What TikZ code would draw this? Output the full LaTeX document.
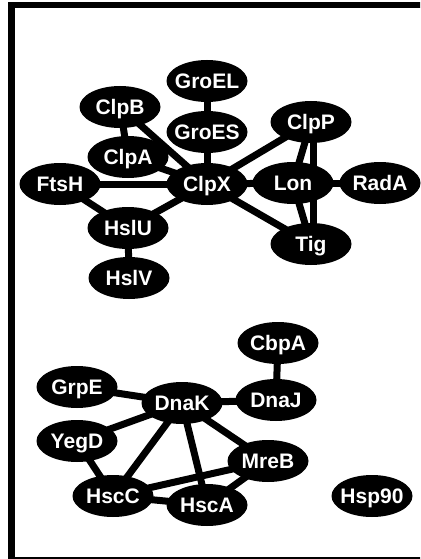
\documentclass[tikz,border=0pt]{standalone}
\usepackage{fontspec}
\setmainfont{Liberation Sans}
\usetikzlibrary{shapes.geometric}
\pgfdeclarelayer{background}
\pgfsetlayers{background,main}

\tikzset{
  plabel/.style={text=white, inner sep=0pt,
    font=\fontsize{21}{21}\selectfont\bfseries,
    text height=15pt, text depth=0pt},
  protein/.style={ellipse, fill=black, inner sep=0pt,
    minimum width=81pt, minimum height=42pt,
    label={[plabel]center:#1}},
  link/.style={line width=7pt, black},
  frameline/.style={line width=6.5pt, black}
}

\begin{document}
\begin{tikzpicture}[x=1pt, y=-1pt]
  \useasboundingbox (0,0) rectangle (420,559);

  % chaperone / protease cluster
  \node[protein=GroEL] (GroEL) at (207,81)  {};
  \node[protein=ClpB]  (ClpB)  at (120,107) {};
  \node[protein=GroES] (GroES) at (207,132) {};
  \node[protein=ClpP]  (ClpP)  at (311,122) {};
  \node[protein=ClpA]  (ClpA)  at (128,157) {};
  \node[protein=FtsH]  (FtsH)  at (60,184)  {};
  \node[protein=ClpX]  (ClpX)  at (207,184) {};
  \node[protein=Lon]   (Lon)   at (293,183) {};
  \node[protein=RadA]  (RadA)  at (380,183) {};
  \node[protein=HslU]  (HslU)  at (128,228) {};
  \node[protein=Tig]   (Tig)   at (311,244) {};
  \node[protein=HslV]  (HslV)  at (129,278) {};

  % DnaK cluster
  \node[protein=CbpA]  (CbpA)  at (278,343) {};
  \node[protein=GrpE]  (GrpE)  at (77,387)  {};
  \node[protein=DnaK]  (DnaK)  at (182,403) {};
  \node[protein=DnaJ]  (DnaJ)  at (276,400) {};
  \node[protein=YegD]  (YegD)  at (77,441)  {};
  \node[protein=MreB]  (MreB)  at (268,461) {};
  \node[protein=HscC]  (HscC)  at (113,496) {};
  \node[protein=HscA]  (HscA)  at (207,505) {};
  \node[protein=Hsp90] (Hsp90) at (372,496) {};

  \begin{pgfonlayer}{background}
    \fill[white] (0,0) rectangle (420,559);
    % open frame: left, top and bottom sides only
    \begin{scope}
      \clip (0,0) rectangle (420,559);
      \draw[frameline] (430,5) -- (11.5,5) -- (11.5,560) -- (430,560);
    \end{scope}

    \draw[link] (GroEL.center) -- (GroES.center);
    \draw[link] (ClpB.center) -- (ClpA.center);
    \draw[link] (ClpB.center) -- (ClpX.center);
    \draw[link] (GroES.center) -- (ClpX.center);
    \draw[link] (ClpA.center) -- (ClpX.center);
    \draw[link] (FtsH.center) -- (ClpX.center);
    \draw[link] (FtsH.center) -- (HslU.center);
    \draw[link] (HslU.center) -- (ClpX.center);
    \draw[link] (HslU.center) -- (HslV.center);
    \draw[link] (ClpX.center) -- (ClpP.center);
    \draw[link] (ClpX.center) -- (Lon.center);
    \draw[link] (ClpX.center) -- (Tig.center);
    \draw[link] (Lon.center) -- (RadA.center);
    \draw[link] (ClpP.center) -- (Lon.center);
    \draw[link] ([xshift=2pt]ClpP.center) -- ([xshift=2pt]Tig.center);
    \draw[link] (Lon.center) -- (Tig.center);

    \draw[link] (CbpA.center) -- (DnaJ.center);
    \draw[link] (GrpE.center) -- (DnaK.center);
    \draw[link] (DnaK.center) -- (DnaJ.center);
    \draw[link] (YegD.center) -- (DnaK.center);
    \draw[link] (YegD.center) -- (HscC.center);
    \draw[link] (DnaK.center) -- (HscC.center);
    \draw[link] (DnaK.center) -- (HscA.center);
    \draw[link] (DnaK.center) -- (MreB.center);
    \draw[link] (HscC.center) -- (MreB.center);
    \draw[link] (HscC.center) -- (HscA.center);
    \draw[link] (HscA.center) -- (MreB.center);
  \end{pgfonlayer}
\end{tikzpicture}
\end{document}
